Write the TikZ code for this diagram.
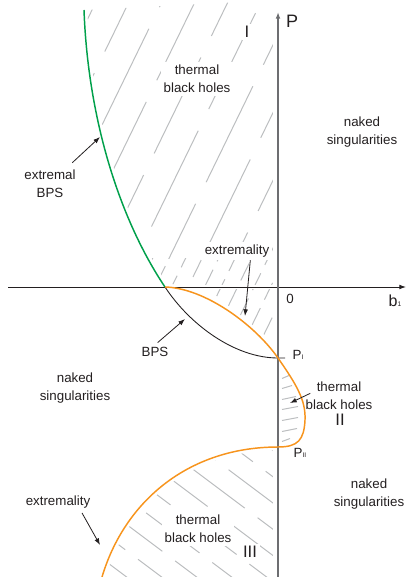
\documentclass[tikz,border=0pt]{standalone}
\usepackage{fontspec}
\setmainfont{Liberation Sans}
\usetikzlibrary{arrows.meta}
\definecolor{ink}{HTML}{231F20}
\definecolor{bpsgreen}{HTML}{00A04B}
\definecolor{extorange}{HTML}{F7941D}
\definecolor{axisgray}{HTML}{6D6E71}
\definecolor{hatchgray}{HTML}{BCBEC0}
\newcommand\greenarc{(84,10) .. controls (88,120) and (120,220) .. (165,287)}
\newcommand\orangearc{(165,287) .. controls (205,288) and (255,325) .. (278,358) .. controls (296,384) and (306,400) .. (305,420) .. controls (304,440) and (298,447) .. (278,447) .. controls (190,447) and (125,500) .. (102,577)}
\newcommand\bpsarc{(165,287) .. controls (190,325) and (235,358) .. (278,358) -- (285,358)}
\newcommand\lowidx[1]{\raisebox{-.3pt}{\fontsize{5}{5}\selectfont#1}}
\tikzset{>={Latex[length=5pt,width=3.6pt]},
  every node/.style={font=\fontsize{10}{13.5}\selectfont,text=ink,align=center},
  numeral/.style={font=\fontsize{12.5}{12.5}\selectfont},
  blank/.style={fill=white,inner sep=2pt},
  hatch/.style={draw=hatchgray,line width=.75pt},
  halo/.style={draw=white,line width=5pt},
  pointer/.style={->,draw=ink,line width=.6pt},
  greencurve/.style={draw=bpsgreen,line width=1.1pt},
  orangecurve/.style={draw=extorange,line width=1.1pt},
  bpscurve/.style={draw=ink,line width=.65pt}}

\begin{document}
\begin{tikzpicture}[x=.75pt,y=-.75pt]
\path[use as bounding box] (0,0) rectangle (409,577);

\begin{scope}
\clip \greenarc .. controls (205,288) and (255,325) .. (278,358) -- (278,0) -- cycle;
\clip (0,0) rectangle (409,258);
\foreach \k in {0,...,11}{
  \pgfmathsetmacro\ph{mod(\k*37,98)}
  \draw[hatch,dash pattern=on 80pt off 18pt,dash phase=\ph pt] ({96.9+33*\k},0) -- ({-107.7+33*\k},420);}
\end{scope}
\begin{scope}
\clip \greenarc .. controls (205,288) and (255,325) .. (278,358) -- (278,0) -- cycle;
\clip (0,258) rectangle (409,400);
\foreach \k in {0,...,23}{
  \pgfmathsetmacro\ph{mod(\k*13,21)}
  \draw[hatch,dash pattern=on 14pt off 7pt,dash phase=\ph pt] ({96.9+16.5*\k},0) -- ({-107.7+16.5*\k},420);}
\end{scope}
\begin{scope}
\clip (278,447) .. controls (190,447) and (125,500) .. (102,577) -- (278,577) -- cycle;
\foreach \k in {-1,...,10}{
  \pgfmathsetmacro\c{217.6+21*\k}
  \pgfmathsetmacro\ph{mod(\k*23,62)}
  \draw[hatch,dash pattern=on 50pt off 12pt,dash phase=\ph pt] ({-0.6*\c+264},{0.8*\c+198}) -- ({-0.6*\c+480},{0.8*\c+360});}
\end{scope}

\draw[halo] \greenarc; \draw[halo] \orangearc; \draw[halo] \bpsarc;
\draw[halo,line width=3pt] (8,287) -- (400,287); \draw[halo,line width=7pt] (278,577) -- (278,20);
\foreach \yy/\xe in {377/289,387/292,398/296,408/298,419/298,430/297,440/290}
  \draw[hatch] (282,\yy+1.5) -- (\xe,\yy-1.5);

\node[numeral,blank] (lblRegI) at (247,32) {I};
\node[blank] (lblTBH1) at (197,79) {thermal\\black holes};
\node[blank] (lblExtTop) at (237,251) {extremality};
\node[blank] (lblTBH3) at (198,529) {thermal\\black holes};
\node[numeral,blank] (lblRegIII) at (250,552) {III};
\node[font=\fontsize{13.5}{13.5}\selectfont] (lblP) at (292,21) {P};
\node (lblZero) at (290,299) {0};
\node[font=\fontsize{12}{12}\selectfont] (lblB) at (395,301) {b\lowidx{1}};
\node (lblNS1) at (362,132) {naked\\singularities};
\node (lblExtBPS) at (50,184) {extremal\\BPS};
\node (lblBPS) at (155,352) {BPS};
\node (lblPI) at (298,355) {P\lowidx{I}};
\node (lblNS2) at (75,388) {naked\\singularities};
\node (lblTBH2) at (339,396) {thermal\\black holes};
\node[numeral] (lblRegII) at (340,420) {II};
\node (lblPII) at (300,453) {P\lowidx{II}};
\node (lblNS3) at (369,494) {naked\\singularities};
\node (lblExtBot) at (58,502) {extremality};

\draw[->,draw=ink,line width=.7pt] (8,287) -- (406,287);
\draw[->,draw=axisgray,line width=1.1pt] (278,577) -- (278,12);
\draw[bpscurve] \bpsarc;
\draw[greencurve] \greenarc;
\draw[orangecurve] \orangearc;

\coordinate (tipExtBPS) at (100,137);
\coordinate (tipExtTop) at (245,316);
\coordinate (tipBPS) at (185,319);
\coordinate (tipTBH2) at (290,403);
\coordinate (tipExtBot) at (100,545);
\draw[pointer] ([xshift=-6pt,yshift=2pt]lblExtBPS.north east) -- (tipExtBPS);
\draw[pointer] ([xshift=10pt]lblExtTop.south) -- (tipExtTop);
\draw[pointer] ([xshift=2pt]lblBPS.north) -- (tipBPS);
\draw[pointer] ([xshift=7pt,yshift=2pt]lblTBH2.west) -- (tipTBH2);
\draw[pointer] ([xshift=18pt]lblExtBot.south) -- (tipExtBot);
\end{tikzpicture}
\end{document}
